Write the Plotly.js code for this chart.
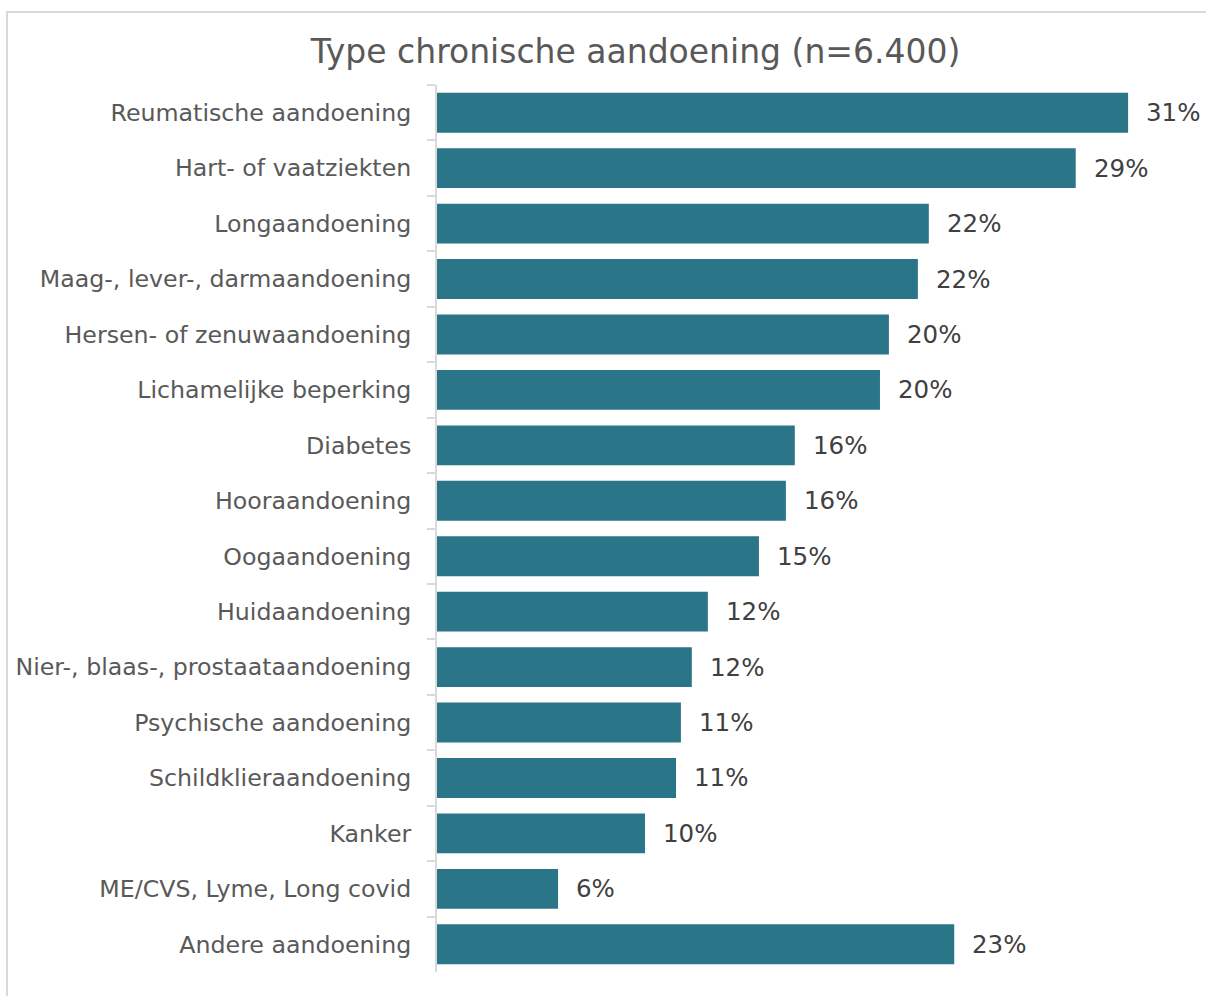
<!DOCTYPE html>
<html>
<head>
<meta charset="utf-8">
<script src="https://cdn.plot.ly/plotly-3.0.1.min.js"></script>
<style>
html,body{margin:0;padding:0;background:#fff;overflow:hidden;}
#frame{position:absolute;left:6px;top:11px;width:1400px;height:1200px;border:2px solid #d9d9d9;box-sizing:border-box;}
#chart{position:absolute;left:0;top:0;width:1206px;height:996px;}
</style>
</head>
<body>
<div id="frame"></div>
<div id="chart"></div>
<script>
const categories = [
  "Reumatische aandoening",
  "Hart- of vaatziekten",
  "Longaandoening",
  "Maag-, lever-, darmaandoening",
  "Hersen- of zenuwaandoening",
  "Lichamelijke beperking",
  "Diabetes",
  "Hooraandoening",
  "Oogaandoening",
  "Huidaandoening",
  "Nier-, blaas-, prostaataandoening",
  "Psychische aandoening",
  "Schildklieraandoening",
  "Kanker",
  "ME/CVS, Lyme, Long covid",
  "Andere aandoening"
];
const values = [31.0, 28.65, 22.06, 21.57, 20.27, 19.87, 16.05, 15.65, 14.44, 12.15, 11.43, 10.94, 10.72, 9.33, 5.43, 23.2];
const valueLabels = ["31%","29%","22%","22%","20%","20%","16%","16%","15%","12%","12%","11%","11%","10%","6%","23%"];

const FONT = "'DejaVu Sans', sans-serif";

const trace = {
  type: 'bar',
  orientation: 'h',
  y: categories,
  x: values,
  marker: {color: '#2b7589', line: {width: 0}},
  hoverinfo: 'none'
};

const annotations = categories.map((c, i) => ({
  x: values[i], y: c, xref: 'x', yref: 'y',
  text: valueLabels[i], showarrow: false,
  xanchor: 'left', xshift: 16,
  font: {family: FONT, size: 24.5, color: '#404040'}
}));

const layout = {
  width: 1206, height: 996,
  paper_bgcolor: 'rgba(0,0,0,0)',
  plot_bgcolor: 'rgba(0,0,0,0)',
  margin: {l: 437, r: 11, t: 85, b: 24},
  bargap: 0.28,
  showlegend: false,
  title: {
    text: 'Type chronische aandoening (n=6.400)',
    font: {family: FONT, size: 33, color: '#595959'},
    x: 0.527, xanchor: 'center', y: 0.948, yanchor: 'middle'
  },
  xaxis: {range: [0, 34], visible: false, fixedrange: true},
  yaxis: {
    type: 'category',
    autorange: 'reversed',
    showline: true, linecolor: '#d9d9d9', linewidth: 2,
    ticks: 'outside', tickson: 'boundaries', ticklen: 8, tickcolor: '#d9d9d9', tickwidth: 2,
    ticklabelstandoff: 19,
    tickfont: {family: FONT, size: 23.7, color: '#595959'},
    showgrid: false, zeroline: false, fixedrange: true
  },
  annotations: annotations
};

Plotly.newPlot('chart', [trace], layout, {displayModeBar: false, staticPlot: true});
</script>
</body>
</html>
